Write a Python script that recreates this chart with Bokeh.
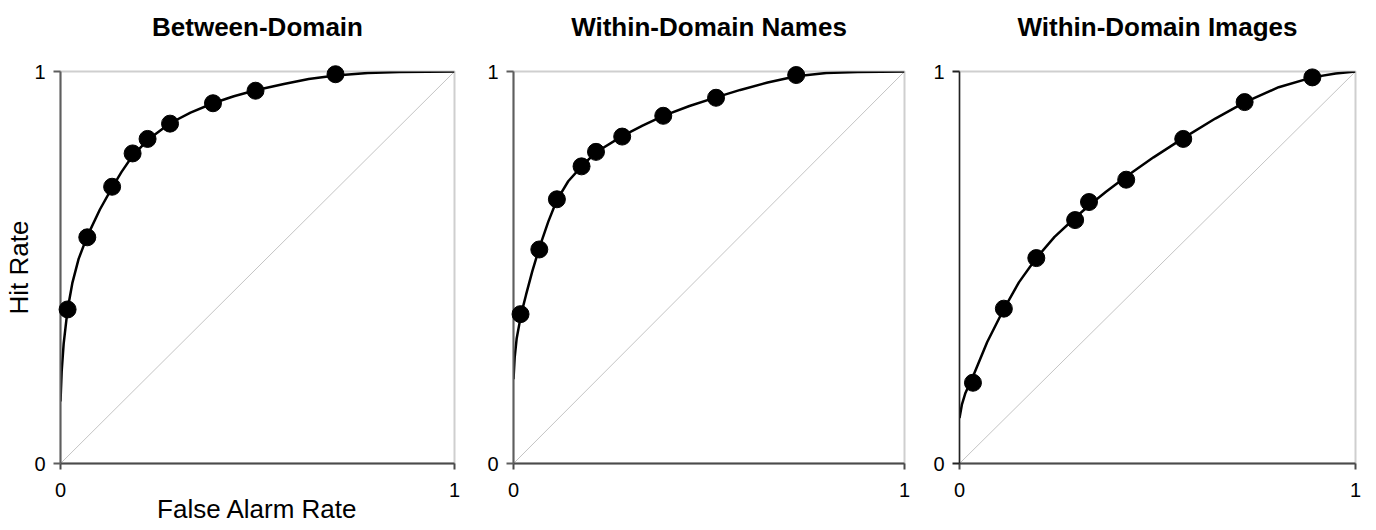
from bokeh.plotting import figure
from bokeh.layouts import row
from bokeh.models import FixedTicker, Range1d
from bokeh.embed import file_html
from bokeh.resources import INLINE

FONT = "Liberation Sans"
HEIGHT = 530

# Panel titles
titles = ["Between-Domain", "Within-Domain Names", "Within-Domain Images"]

# Observed operating points: false alarm rate / hit rate per confidence criterion
between_fa = [0.018, 0.068, 0.131, 0.183, 0.221, 0.278, 0.387, 0.495, 0.698]
between_hit = [0.393, 0.577, 0.706, 0.791, 0.828, 0.867, 0.919, 0.951, 0.993]

names_fa = [0.018, 0.066, 0.111, 0.174, 0.211, 0.278, 0.383, 0.518, 0.723]
names_hit = [0.381, 0.546, 0.674, 0.758, 0.795, 0.834, 0.887, 0.933, 0.991]

images_fa = [0.034, 0.112, 0.194, 0.292, 0.327, 0.421, 0.565, 0.720, 0.891]
images_hit = [0.206, 0.395, 0.524, 0.621, 0.667, 0.724, 0.828, 0.922, 0.985]

# Fitted ROC curves
between_curve_fa = [0, 0.003, 0.008, 0.018, 0.03, 0.046, 0.068, 0.10, 0.131, 0.155,
                    0.183, 0.221, 0.278, 0.33, 0.387, 0.44, 0.495, 0.567, 0.63,
                    0.698, 0.78, 0.86, 1.0]
between_curve_hit = [0.158, 0.235, 0.305, 0.393, 0.46, 0.522, 0.58, 0.648, 0.704, 0.744,
                     0.785, 0.825, 0.868, 0.895, 0.919, 0.937, 0.952, 0.968, 0.981,
                     0.99, 0.996, 0.999, 1.0]

names_curve_fa = [0, 0.003, 0.008, 0.0196, 0.032, 0.048, 0.066, 0.089, 0.111, 0.14,
                  0.174, 0.211, 0.278, 0.33, 0.383, 0.45, 0.518, 0.58, 0.65, 0.723,
                  0.8, 0.88, 1.0]
names_curve_hit = [0.215, 0.27, 0.318, 0.381, 0.43, 0.49, 0.55, 0.617, 0.672, 0.72,
                   0.758, 0.794, 0.835, 0.862, 0.887, 0.912, 0.934, 0.953, 0.972, 0.988,
                   0.996, 0.999, 1.0]

images_curve_fa = [0, 0.006, 0.015, 0.034, 0.07, 0.112, 0.15, 0.194, 0.24, 0.292,
                   0.327, 0.37, 0.421, 0.49, 0.565, 0.646, 0.72, 0.806, 0.891, 0.95, 1.0]
images_curve_hit = [0.116, 0.15, 0.18, 0.222, 0.31, 0.394, 0.462, 0.524, 0.578, 0.627,
                    0.658, 0.693, 0.732, 0.781, 0.830, 0.880, 0.921, 0.960, 0.985, 0.995, 1.0]

# Chance diagonal and axis ticks
chance = [0, 1]
ticks = [0, 1]


def make_panel(title, fa, hit, curve_fa, curve_hit, width, left, right, top, bottom,
               ylabel=None, xlabel=None, yaxis_color="#5e5e5e", yaxis_width=2):
    p = figure(width=width, height=HEIGHT, output_backend="svg", toolbar_location=None,
               x_range=Range1d(0, 1), y_range=Range1d(0, 1),
               min_border_left=left, min_border_right=right,
               min_border_top=top, min_border_bottom=bottom)
    # heading sits one blank line above the frame edge
    p.title.text = title + "\n "
    p.title.align = "center"
    p.title.text_font = FONT
    p.title.text_font_style = "bold"
    p.title.text_font_size = "26px"
    p.title.text_line_height = 1.0
    p.title.text_color = "black"
    p.title.standoff = 0
    p.grid.visible = False
    p.background_fill_color = "white"
    p.border_fill_color = "white"
    p.outline_line_color = "#cfcfcf"
    p.outline_line_width = 2

    for ax in (p.xaxis[0], p.yaxis[0]):
        ax.ticker = FixedTicker(ticks=ticks)
        ax.minor_tick_line_color = None
        ax.major_tick_in = 0
        ax.major_label_text_font = FONT
        ax.major_label_text_font_size = "20px"
        ax.major_label_text_color = "black"
        ax.axis_label_text_font = FONT
        ax.axis_label_text_font_size = "26px"
        ax.axis_label_text_font_style = "normal"
        ax.axis_label_text_color = "black"

    p.xaxis.major_tick_out = 6
    p.xaxis.major_label_standoff = 13
    p.xaxis.axis_line_color = "#4a4a4a"
    p.xaxis.axis_line_width = 2
    p.xaxis.major_tick_line_color = "#4a4a4a"
    p.xaxis.major_tick_line_width = 2

    p.yaxis.major_tick_out = 7
    p.yaxis.major_label_standoff = 8
    p.yaxis.axis_line_color = yaxis_color
    p.yaxis.axis_line_width = yaxis_width
    p.yaxis.major_tick_line_color = yaxis_color
    p.yaxis.major_tick_line_width = 2

    if xlabel:
        p.xaxis.axis_label = xlabel
        p.xaxis.axis_label_standoff = -6
    if ylabel:
        p.yaxis.axis_label = ylabel
        p.yaxis.axis_label_standoff = -3

    p.line(chance, chance, line_color="#c4c4c4", line_width=1)
    p.line(curve_fa, curve_hit, line_color="black", line_width=2.5)
    pts = p.scatter(fa, hit, size=17, fill_color="black", line_color="black")
    pts.level = "overlay"
    return p


p1 = make_panel(titles[0], between_fa, between_hit, between_curve_fa, between_curve_hit,
                484, 60, 30, 70, 67, ylabel="Hit Rate", xlabel="False Alarm Rate")
p2 = make_panel(titles[1], names_fa, names_hit, names_curve_fa, names_curve_hit,
                445, 29, 25, 71, 67)
p3 = make_panel(titles[2], images_fa, images_hit, images_curve_fa, images_curve_hit,
                447, 30, 21, 71, 64, yaxis_color="#222222", yaxis_width=1.5)

p = row(p1, p2, p3, spacing=0)

open("out.html", "w").write(file_html(p, INLINE))
